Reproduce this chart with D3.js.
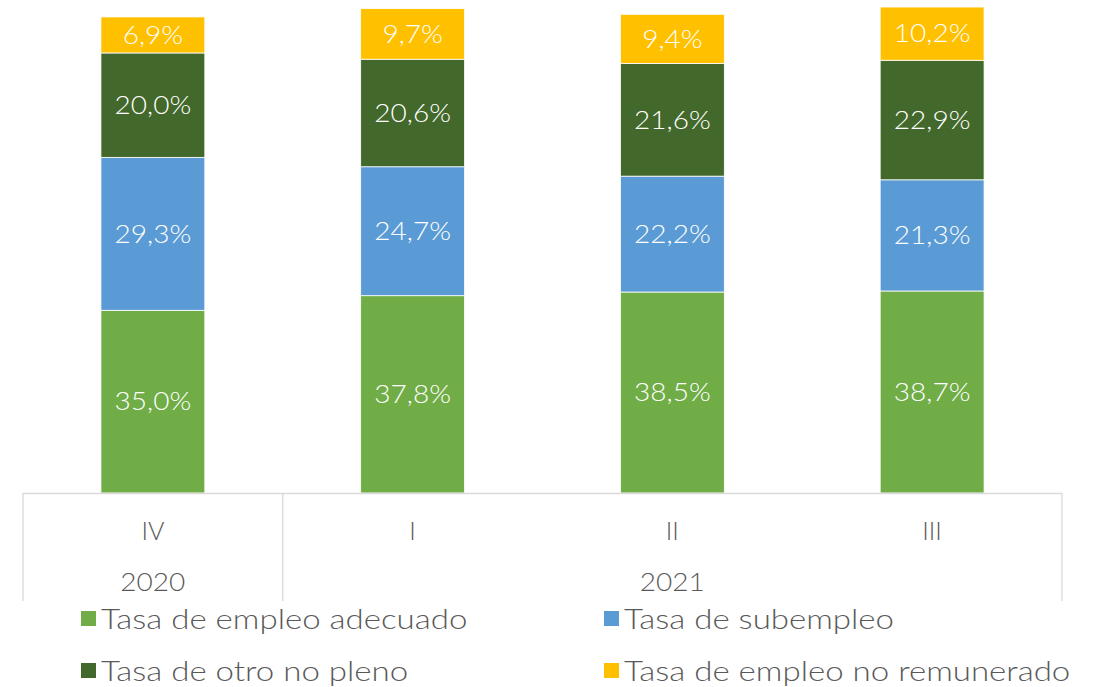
<!DOCTYPE html>
<html>
<head>
<meta charset="utf-8">
<script src="https://cdn.jsdelivr.net/npm/d3@7"></script>
<style>
  body { margin: 0; background: #fff; }
  text { font-family: "Lato", "Open Sans", sans-serif; font-weight: 300; }
</style>
</head>
<body>
<svg id="chart" width="1094" height="687"></svg>
<script>
var quarters = ["IV", "I", "II", "III"];
var years = [{label: "2020", from: 0, to: 1}, {label: "2021", from: 1, to: 4}];
var seriesNames = ["Tasa de empleo adecuado", "Tasa de subempleo", "Tasa de otro no pleno", "Tasa de empleo no remunerado"];
var seriesColors = ["#70AD47", "#5B9BD5", "#43682B", "#FFC000"];
var adecuado = [35.0, 37.8, 38.5, 38.7];
var subempleo = [29.3, 24.7, 22.2, 21.3];
var otroNoPleno = [20.0, 20.6, 21.6, 22.9];
var noRemunerado = [6.9, 9.7, 9.4, 10.2];

var svg = d3.select("#chart");
var left = 23, right = 1062, base = 493;

var rows = quarters.map(function (q, i) {
    return {q: q, s0: adecuado[i], s1: subempleo[i], s2: otroNoPleno[i], s3: noRemunerado[i]};
});
var stack = d3.stack().keys(["s0", "s1", "s2", "s3"]);
var layers = stack(rows);

var x = d3.scaleBand().domain(quarters).range([left, right]).paddingInner(0.6).paddingOuter(0.3);
var y = d3.scaleLinear().domain([0, 100]).range([base, base - 522]);

var fmt = function (v) { return v.toFixed(1).replace(".", ",") + "%"; };

// stretch text horizontally to mimic the wide original typeface
function widen(sel, factor) {
    sel.each(function () {
        var w = this.getComputedTextLength();
        d3.select(this).attr("textLength", w * factor).attr("lengthAdjust", "spacingAndGlyphs");
    });
}

var g = svg.append("g");
layers.forEach(function (layer, k) {
    var grp = g.append("g");
    grp.selectAll("rect")
        .data(layer)
        .enter().append("rect")
        .attr("x", function (d) { return x(d.data.q); })
        .attr("width", x.bandwidth())
        .attr("y", function (d) { return y(d[1]); })
        .attr("height", function (d) { return y(d[0]) - y(d[1]); })
        .attr("fill", seriesColors[k])
        .attr("stroke", "#fff")
        .attr("stroke-width", 0.8);
    var lbl = grp.selectAll("text")
        .data(layer)
        .enter().append("text")
        .attr("x", function (d) { return x(d.data.q) + x.bandwidth() / 2; })
        .attr("y", function (d) { return (y(d[0]) + y(d[1])) / 2; })
        .attr("dy", "0.35em")
        .attr("text-anchor", "middle")
        .attr("fill", "#fff")
        .style("font-size", "25px")
        .text(function (d) { return fmt(d[1] - d[0]); });
    widen(lbl, 1.12);
});

// multi-level category axis
var step = (right - left) / quarters.length;
var ax = svg.append("g").attr("stroke", "#d9d9d9").attr("stroke-width", 1.3);
ax.append("line").attr("x1", left).attr("x2", right).attr("y1", base + 0.5).attr("y2", base + 0.5);
var edges = [0].concat(years.map(function (yr) { return yr.to; }));
edges.forEach(function (e) {
    ax.append("line")
        .attr("x1", left + e * step).attr("x2", left + e * step)
        .attr("y1", base).attr("y2", 601);
});

var qt = svg.append("g").selectAll("text")
    .data(quarters)
    .enter().append("text")
    .attr("x", function (d) { return x(d) + x.bandwidth() / 2; })
    .attr("y", 531)
    .attr("dy", "0.35em")
    .attr("text-anchor", "middle")
    .attr("fill", "#595959")
    .style("font-size", "25px")
    .text(function (d) { return d; });

var yt = svg.append("g").selectAll("text")
    .data(years)
    .enter().append("text")
    .attr("x", function (d) {
        return (x(quarters[d.from]) + x(quarters[d.to - 1]) + x.bandwidth()) / 2;
    })
    .attr("y", 582)
    .attr("dy", "0.35em")
    .attr("text-anchor", "middle")
    .attr("fill", "#595959")
    .style("font-size", "25px")
    .text(function (d) { return d.label; });
widen(yt, 1.12);

// legend
var legendPos = [[81, 619], [604, 619], [81, 671], [604, 671]];
var order = [0, 1, 2, 3];
var leg = svg.append("g").selectAll("g")
    .data(order)
    .enter().append("g")
    .attr("transform", function (d, i) { return "translate(" + legendPos[i][0] + "," + legendPos[i][1] + ")"; });
leg.append("rect")
    .attr("x", 0).attr("y", -8).attr("width", 15).attr("height", 15)
    .attr("fill", function (d) { return seriesColors[d]; });
var lt = leg.append("text")
    .attr("x", 20).attr("y", 0).attr("dy", "0.35em")
    .attr("fill", "#595959")
    .style("font-size", "28px")
    .text(function (d) { return seriesNames[d]; });
widen(lt, 1.18);
</script>
</body>
</html>
